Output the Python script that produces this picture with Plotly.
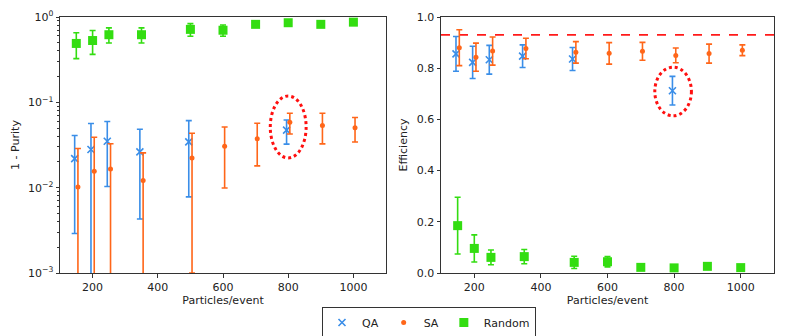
import numpy as np
import plotly.graph_objects as go
from plotly.subplots import make_subplots

# ---------------- data ----------------
particles = [150, 200, 250, 350, 500, 600, 700, 800, 900, 1000]
qa_particles = [150, 200, 250, 350, 500, 800]

# 1 - Purity
qa_impurity = [0.0219, 0.028, 0.035, 0.0263, 0.0344, 0.0472]
qa_impurity_err = [0.019, 0.0286, 0.0247, 0.022, 0.0266, 0.0148]
sa_impurity = [0.0102, 0.0156, 0.0166, 0.0121, 0.0222, 0.0306, 0.0374, 0.0586, 0.0536, 0.0503]
sa_impurity_err = [0.0186, 0.0234, 0.0161, 0.0135, 0.0212, 0.0207, 0.0194, 0.016, 0.021, 0.016]
rnd_impurity = [0.49, 0.53, 0.62, 0.62, 0.716, 0.70, 0.82, 0.857, 0.82, 0.87]
rnd_impurity_err = [0.165, 0.165, 0.125, 0.125, 0.12, 0.105, 0.03, 0.02, 0.03, 0.02]

# Efficiency
qa_eff = [0.856, 0.823, 0.833, 0.847, 0.836, 0.712]
qa_eff_err = [0.068, 0.063, 0.056, 0.044, 0.045, 0.056]
sa_eff = [0.880, 0.843, 0.867, 0.877, 0.862, 0.858, 0.866, 0.850, 0.857, 0.870]
sa_eff_err = [0.07, 0.055, 0.055, 0.04, 0.042, 0.042, 0.035, 0.029, 0.037, 0.021]
rnd_eff = [0.185, 0.096, 0.061, 0.064, 0.0415, 0.044, 0.022, 0.020, 0.026, 0.021]
rnd_eff_err = [0.111, 0.053, 0.029, 0.028, 0.024, 0.02, 0.005, 0.004, 0.005, 0.004]

efficiency_threshold = 0.93
highlight_particles = 800

series_names = ["QA", "SA", "Random"]
purity_ticks = [1e-3, 1e-2, 1e-1, 1e0]
purity_ticktext = ["10<sup>−3</sup>", "10<sup>−2</sup>", "10<sup>−1</sup>", "10<sup>0</sup>"]
eff_ticks = [0.0, 0.2, 0.4, 0.6, 0.8, 1.0]
x_ticks = [200, 400, 600, 800, 1000]

# ---------------- style ----------------
C_QA = "#3a8ee8"
C_SA = "#ff6619"
C_RND = "#33dd11"
FONT = "DejaVu Sans"
OFF = 8                      # default page body margin
W, H = 789 - OFF, 336 - OFF

qa_x = np.array(qa_particles) - 5
sa_x = np.array(particles) + 5
rnd_x = np.array(particles)

fig = make_subplots(rows=1, cols=2)


def err(arr, color):
    return dict(type="data", array=arr, visible=True, color=color, thickness=1.6, width=3)


def add_series(col, qy, qe, sy, se, ry, re, show):
    fig.add_trace(go.Scatter(x=qa_x, y=qy, mode="markers", name=series_names[0], legendgroup="qa",
                             showlegend=show,
                             marker=dict(symbol="x-thin", size=7, color=C_QA, line=dict(color=C_QA, width=1.6)),
                             error_y=err(qe, C_QA)), row=1, col=col)
    fig.add_trace(go.Scatter(x=sa_x, y=sy, mode="markers", name=series_names[1], legendgroup="sa",
                             showlegend=show,
                             marker=dict(symbol="circle", size=5, color=C_SA),
                             error_y=err(se, C_SA)), row=1, col=col)
    fig.add_trace(go.Scatter(x=rnd_x, y=ry, mode="markers", name=series_names[2], legendgroup="rnd",
                             showlegend=show,
                             marker=dict(symbol="square", size=9, color=C_RND),
                             error_y=err(re, C_RND)), row=1, col=col)


add_series(1, qa_impurity, qa_impurity_err, sa_impurity, sa_impurity_err, rnd_impurity, rnd_impurity_err, True)
add_series(2, qa_eff, qa_eff_err, sa_eff, sa_eff_err, rnd_eff, rnd_eff_err, False)

# threshold line
fig.add_shape(type="line", xref="x2 domain", yref="y2", x0=0, x1=1,
              y0=efficiency_threshold, y1=efficiency_threshold,
              line=dict(color="#ff1a1a", width=1.8, dash="dash"), layer="below")

# highlight ellipses
fig.add_shape(type="circle", xref="x", yref="y", x0=highlight_particles - 55, x1=highlight_particles + 55,
              y0=0.0223, y1=0.1186, line=dict(color="#ff1010", width=3, dash="dot"))
fig.add_shape(type="circle", xref="x2", yref="y2", x0=highlight_particles - 58, x1=highlight_particles + 52,
              y0=0.614, y1=0.804, line=dict(color="#ff1010", width=3, dash="dot"))

axis_common = dict(showline=True, linecolor="#333333", linewidth=1, mirror=True,
                   ticks="outside", ticklen=3.5, tickwidth=0.8, tickcolor="#333333",
                   showgrid=False, zeroline=False, automargin=False,
                   tickfont=dict(family=FONT, size=11, color="#222222"))

minor_vals = [m * 10.0 ** d for d in (-3, -2, -1) for m in range(2, 10)]

# plot-area pixel geometry (window pixels minus body offset)
L, R, T, B = 60 - OFF, 774 - OFF, 17 - OFF, 273 - OFF
x1p, x2p = 386 - OFF, 441 - OFF
PW = R - L

fig.update_xaxes(**axis_common, range=[100, 1100], tickvals=x_ticks,
                 title=dict(text="Particles/event", font=dict(family=FONT, size=11, color="#222222"), standoff=4))
fig.update_layout(
    xaxis=dict(domain=[0, (x1p - L) / PW]),
    xaxis2=dict(domain=[(x2p - L) / PW, 1]),
    yaxis=dict(**axis_common, type="log", range=[-3, 0], tickvals=purity_ticks, ticktext=purity_ticktext,
               domain=[0, 1],
               minor=dict(ticks="outside", ticklen=2, tickwidth=0.6, tickcolor="#333333", tickvals=minor_vals),
               title=dict(text="1 - Purity", font=dict(family=FONT, size=11, color="#222222"), standoff=6)),
    yaxis2=dict(**axis_common, range=[0, 1.0], tickvals=eff_ticks, tickformat=".1f",
                domain=[0, 1],
                title=dict(text="Efficiency", font=dict(family=FONT, size=11, color="#222222"), standoff=6)),
)

fig.update_layout(
    width=W, height=H,
    margin=dict(l=L, r=W - R, t=T, b=H - B, autoexpand=False),
    paper_bgcolor="white", plot_bgcolor="white",
    font=dict(family=FONT, size=11, color="#222222"),
    legend=dict(orientation="h", xref="container", yref="container",
                x=(429 - OFF) / W, xanchor="center", y=1 - (307 - OFF) / H, yanchor="top",
                bordercolor="#333333", borderwidth=1, bgcolor="white",
                font=dict(family=FONT, size=11), itemwidth=30, tracegroupgap=0),
)

fig.write_html("out.html")
